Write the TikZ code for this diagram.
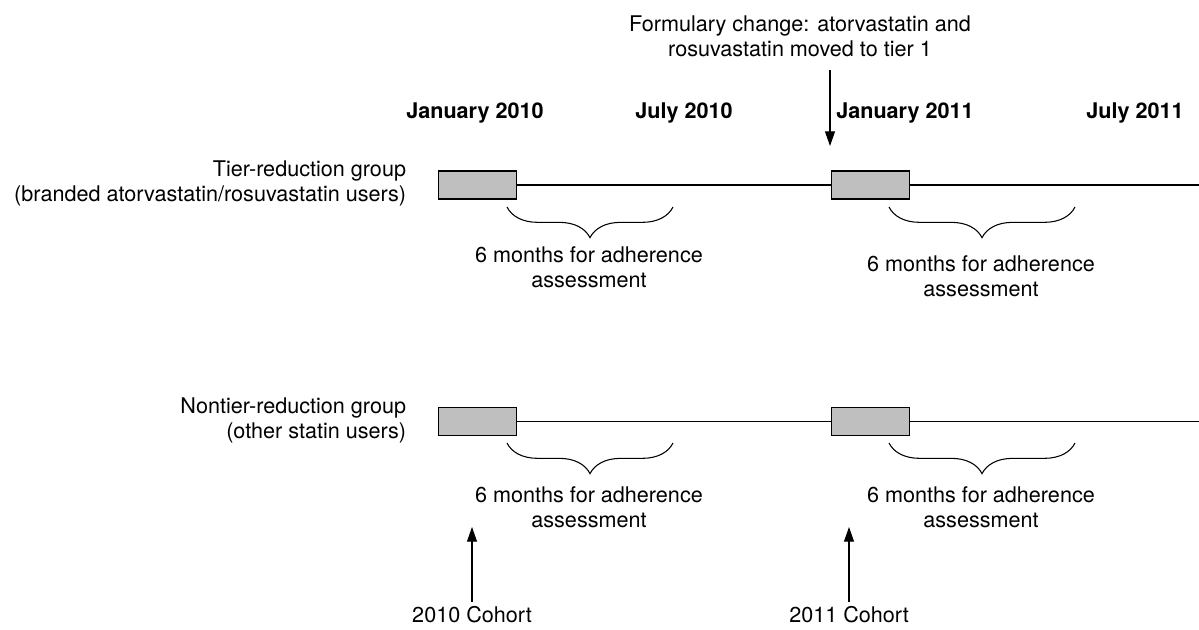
\documentclass[tikz,border=0pt]{standalone}
\usepackage{fontspec}
\setmainfont{TeX Gyre Heros}
\usetikzlibrary{arrows.meta,decorations.pathreplacing,positioning}

\begin{document}
\begin{tikzpicture}[
    x=0.75pt, y=-0.75pt,
    every node/.style={font=\fontsize{16.2}{18.75}\selectfont},
    period/.style={draw, fill=gray!50, minimum width=59pt, minimum height=21pt, inner sep=0pt},
    datehead/.style={font=\fontsize{16.2}{18.75}\selectfont\bfseries},
    note/.style={align=center},
    brc/.style={decorate, decoration={brace, mirror, amplitude=23pt}},
    arr/.style={-{Triangle[length=11pt,width=7.5pt]}},
    line width=0.8pt,
  ]
    \useasboundingbox (0,0) rectangle (1199,629);

    % Kopfzeile
    \node[datehead] (jan10) at (475,113) {January 2010};
    \node[datehead] (jul10) at (684,113) {July 2010};
    \node[datehead] (jan11) at (905,113) {January 2011};
    \node[datehead] (jul11) at (1135,113) {July 2011};

    % Formularwechsel
    \node[note] (fnote) at (800,36) {Formulary change: atorvastatin and\\rosuvastatin moved to tier 1};
    \coordinate (ftop) at (830,70);
    \coordinate (fend) at (830,146);
    \draw[arr] (ftop) -- (fend);

    % Tier-reduction group
    \node[note, align=right, anchor=east] (tier) at (411,183) {Tier-reduction group\\(branded atorvastatin/rosuvastatin users)};
    \node[period] (t1) at (477.5,185) {};
    \node[period] (t2) at (870.5,185) {};
    \coordinate (tend) at (1199,185);
    \draw (t1.east) -- (t2.west);
    \draw (t2.east) -- (tend);
    \draw[brc] (507,207) -- (673,207);
    \draw[brc] (889,207) -- (1075,207);
    \node[note] (ta1) at (589,267) {6 months for adherence\\assessment};
    \node[note] (ta2) at (981,276) {6 months for adherence\\assessment};

    % Nontier-reduction group
    \node[note, align=right, anchor=east] (ntier) at (411,420) {Nontier-reduction group\\(other statin users)};
    \node[period] (n1) at (477.5,421.5) {};
    \node[period] (n2) at (870.5,421.5) {};
    \coordinate (nend) at (1199,421.5);
    \draw (n1.east) -- (n2.west);
    \draw (n2.east) -- (nend);
    \draw[brc] (507,443) -- (673,443);
    \draw[brc] (889,443) -- (1075,443);
    \node[note] (na1) at (589,507) {6 months for adherence\\assessment};
    \node[note] (na2) at (981,507) {6 months for adherence\\assessment};

    % Kohorten
    \node (c10) at (472,615) {2010 Cohort};
    \node (c11) at (849,615) {2011 Cohort};
    \coordinate (c10tip) at (472,527);
    \coordinate (c11tip) at (849,527);
    \draw[arr] (c10.north) -- (c10tip);
    \draw[arr] (c11.north) -- (c11tip);
\end{tikzpicture}
\end{document}
